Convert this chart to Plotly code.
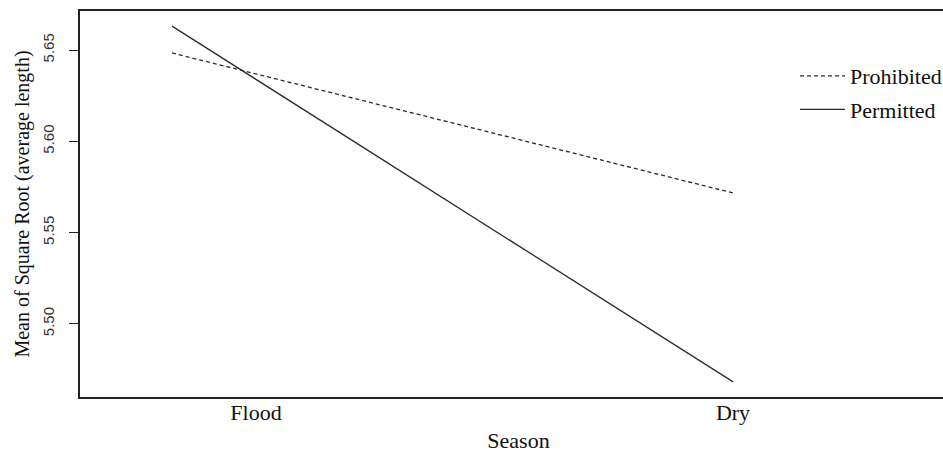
import plotly.graph_objects as go

seasons = ["Flood", "Dry"]
prohibited = [5.6484, 5.5717]
permitted = [5.6631, 5.4682]
y_ticks = [5.50, 5.55, 5.60, 5.65]
y_tick_text = ["5.50", "5.55", "5.60", "5.65"]

serif = "Liberation Serif, Times New Roman, serif"
sans = "Liberation Sans, Arial, sans-serif"
ink = "#2b2b2b"

fig = go.Figure()
fig.add_trace(go.Scatter(x=seasons, y=prohibited, mode="lines", name="Prohibited",
                         legendgroup="a",
                         line=dict(color=ink, width=1.3, dash="4px,3px")))
fig.add_trace(go.Scatter(x=seasons, y=permitted, mode="lines", name="Permitted",
                         legendgroup="b",
                         line=dict(color=ink, width=1.3)))
# invisible trace to carry the category labels on a second x axis
fig.add_trace(go.Scatter(x=seasons, y=[None, None], xaxis="x2", showlegend=False,
                         hoverinfo="skip", mode="lines"))

fig.update_layout(
    width=957, height=453,
    margin=dict(l=80, r=0, t=11, b=56),
    paper_bgcolor="white", plot_bgcolor="white",
    showlegend=True,
    legend=dict(x=0.8153, y=0.886, xanchor="left", yanchor="top",
                font=dict(family=serif, size=22, color="#111"),
                bgcolor="rgba(0,0,0,0)", tracegroupgap=2, itemwidth=45),
    xaxis=dict(type="category", range=[-0.164, 1.399], showticklabels=False,
               showgrid=False, zeroline=False, ticks="", automargin=False,
               showline=True, linecolor="#222", linewidth=1.5, mirror=True,
               title=dict(text="Season", font=dict(family=serif, size=22, color="#111"), standoff=36)),
    xaxis2=dict(type="category", range=[-0.369, 1.4696], overlaying="x", side="bottom",
                showgrid=False, zeroline=False, ticks="", showline=False, automargin=False,
                tickfont=dict(family=serif, size=22, color="#111"),
                ticklabelstandoff=0),
    yaxis=dict(range=[5.4599, 5.6714], tickvals=y_ticks, ticktext=y_tick_text,
               tickangle=-90, ticks="outside", ticklen=9, tickcolor="#222", tickwidth=1,
               tickfont=dict(family=sans, size=15, color="#333"),
               ticklabelstandoff=9, automargin=False,
               showgrid=False, zeroline=False,
               showline=True, linecolor="#222", linewidth=1.5, mirror=True,
               title=dict(text="Mean of Square Root (average length)",
                          font=dict(family=serif, size=20, color="#111"), standoff=5)),
)

fig.write_html("out.html", config={"displayModeBar": False},
               post_script="document.body.style.margin='0';document.body.style.overflow='hidden';")
